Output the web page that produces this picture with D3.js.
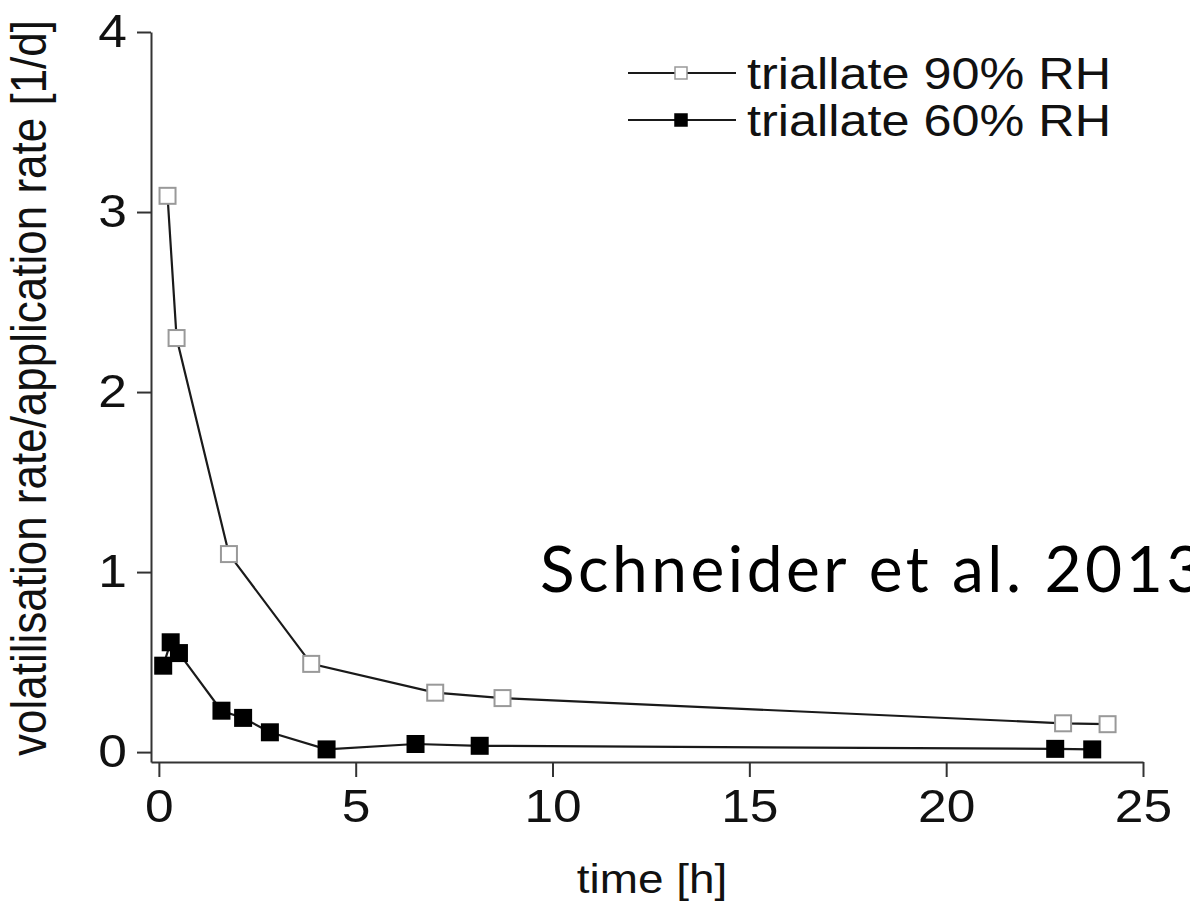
<!DOCTYPE html>
<html>
<head>
<meta charset="utf-8">
<script src="https://cdn.jsdelivr.net/npm/d3@7"></script>
<style>
  body { margin: 0; background: #fff; }
  svg text { font-family: "Liberation Sans", Arial, sans-serif; fill: #111; }
</style>
</head>
<body>
<div id="chart"></div>
<script>
// Data: time [h] vs volatilisation rate / application rate [1/d]
const time90 = [0.22, 0.45, 1.78, 3.87, 7.02, 8.73, 22.97, 24.1];
const rate90 = [3.09, 2.30, 1.10, 0.49, 0.33, 0.30, 0.16, 0.155];
const time60 = [0.11, 0.30, 0.51, 1.59, 2.14, 2.82, 4.26, 6.52, 8.15, 22.77, 23.71];
const rate60 = [0.48, 0.61, 0.55, 0.23, 0.19, 0.11, 0.015, 0.045, 0.035, 0.018, 0.015];
const seriesNames = ["triallate 90% RH", "triallate 60% RH"];
const xTicks = [0, 5, 10, 15, 20, 25];
const yTicks = [0, 1, 2, 3, 4];

const width = 1190;
const height = 907;
// the original figure is slightly stretched sideways, text included
const stretch = 1.12;

let svg = d3.select("#chart")
  .append("svg")
  .attr("width", width)
  .attr("height", height);

// Scales (axis lines start a little below/left of zero, like the original)
let x = d3.scaleLinear().domain([-0.2, 25]).range([151, 1143]);
let y = d3.scaleLinear().domain([-0.055, 4]).range([762, 32]);

// Y axis
let yAxis = svg.append("g")
  .attr("transform", "translate(151,0)")
  .call(d3.axisLeft(y).tickValues(yTicks).tickFormat(d3.format("d"))
    .tickSize(14).tickSizeOuter(0).tickPadding(10));

// X axis
let xAxis = svg.append("g")
  .attr("transform", "translate(0,762)")
  .call(d3.axisBottom(x).tickValues(xTicks).tickFormat(d3.format("d"))
    .tickSize(15).tickSizeOuter(0).tickPadding(12));

[xAxis, yAxis].forEach(g => {
  g.selectAll("path, line").attr("stroke", "#333").attr("stroke-width", 2);
  g.selectAll("text")
    .attr("font-size", 46)
    .style("font-family", "'Liberation Sans', Arial, sans-serif")
    .attr("x", function() { return (+d3.select(this).attr("x") || 0) / stretch; })
    .attr("transform", "scale(" + stretch + ",1)");
});

// Axis titles
svg.append("text")
  .attr("transform", "translate(652,893) scale(" + stretch + ",1)")
  .attr("text-anchor", "middle")
  .attr("font-size", 41)
  .text("time [h]");

svg.append("text")
  .attr("transform", "translate(46,388) scale(" + stretch + ",1) rotate(-90)")
  .attr("text-anchor", "middle")
  .attr("font-size", 44)
  .text("volatilisation rate/application rate [1/d]");

// Panel letter cut off at left edge
svg.append("text")
  .attr("x", -14)
  .attr("y", 893)
  .attr("font-size", 44)
  .text(")");

// Lines
let series = [
  { name: seriesNames[0], t: time90, v: rate90, fill: "#fff", stroke: "#999" },
  { name: seriesNames[1], t: time60, v: rate60, fill: "#000", stroke: "#000" }
];

let line = d3.line()
  .x(d => x(d[0]))
  .y(d => y(d[1]));

series.forEach(s => {
  let pts = s.t.map((t, i) => [t, s.v[i]]);
  svg.append("path")
    .datum(pts)
    .attr("fill", "none")
    .attr("stroke", "#1a1a1a")
    .attr("stroke-width", 2.2)
    .attr("d", line);

  svg.append("g")
    .selectAll("rect")
    .data(pts)
    .join("rect")
    .attr("x", d => x(d[0]) - 8)
    .attr("y", d => y(d[1]) - 8)
    .attr("width", 16)
    .attr("height", 16)
    .attr("fill", s.fill)
    .attr("stroke", s.stroke)
    .attr("stroke-width", 2);
});

// Legend
let legend = svg.append("g").attr("transform", "translate(628,73)");
series.forEach((s, i) => {
  let row = legend.append("g").attr("transform", "translate(0," + i * 47 + ")");
  row.append("line")
    .attr("x1", 0).attr("x2", 108)
    .attr("stroke", "#1a1a1a")
    .attr("stroke-width", 2.2);
  row.append("rect")
    .attr("x", 47).attr("y", -6)
    .attr("width", 12).attr("height", 12)
    .attr("fill", s.fill)
    .attr("stroke", s.stroke)
    .attr("stroke-width", 1.5);
  row.append("text")
    .attr("transform", "translate(119,0) scale(" + stretch + ",1)")
    .attr("dy", "0.36em")
    .attr("font-size", 45)
    .text(s.name);
});

// Citation overlay
svg.append("text")
  .attr("x", 540)
  .attr("y", 592)
  .attr("font-size", 64)
  .attr("letter-spacing", 3.5)
  .style("font-family", "Lato, 'Open Sans', sans-serif")
  .style("fill", "#000")
  .text("Schneider et al. 2013");
</script>
</body>
</html>
